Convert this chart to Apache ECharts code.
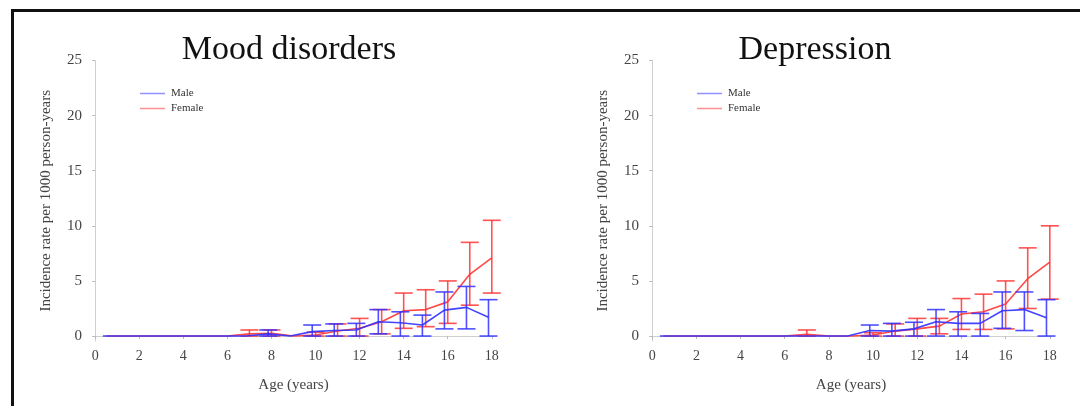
<!DOCTYPE html>
<html>
<head>
<meta charset="utf-8">
<script src="https://cdn.jsdelivr.net/npm/echarts@6/dist/echarts.min.js"></script>
<style>
html,body{margin:0;padding:0;background:#fff;}
#chart{width:1080px;height:406px;}
</style>
</head>
<body>
<div id="chart"></div>
<script>
// ---- data ----
const titles = ['Mood disorders', 'Depression'];
const ages = [0.5, 1, 2, 3, 4, 5, 6, 7, 8, 9, 10, 11, 12, 13, 14, 15, 16, 17, 18];
const xTicks = [0, 2, 4, 6, 8, 10, 12, 14, 16, 18];
const yTicks = [0, 5, 10, 15, 20, 25];
const seriesNames = ['Male', 'Female'];
const xAxisTitle = 'Age (years)';
const yAxisTitle = 'Incidence rate per 1000 person-years';

// Mood disorders
const moodMale    = [0,0,0,0,0,0,0,0,   0.2, 0,   0.4, 0.5, 0.55, 1.3, 1.2, 1.0, 2.35, 2.6, 1.7];
const moodMaleLo  = [0,0,0,0,0,0,0,0,   0,   0,   0,   0,   0,    0.2, 0,   0,   0.65, 0.65, 0];
const moodMaleHi  = [0,0,0,0,0,0,0,0,   0.55,0,   1.0, 1.1, 1.15, 2.4, 2.2, 1.9, 4.0, 4.5, 3.3];
const moodFem     = [0,0,0,0,0,0,0,0.2, 0.25,0,   0.1, 0.45,0.7,  1.3, 2.3, 2.4, 3.1, 5.6, 7.1];
const moodFemLo   = [0,0,0,0,0,0,0,0,   0,   0,   0,   0,   0,    0.2, 0.7, 0.85,1.15,2.8, 3.9];
const moodFemHi   = [0,0,0,0,0,0,0,0.55,0.55,0,   0.35,1.1, 1.6,  2.4, 3.9, 4.2, 5.0, 8.5, 10.5];

// Depression
const depMale     = [0,0,0,0,0,0,0,0,   0,   0,   0.5, 0.45,0.65, 1.3, 1.15,1.15,2.3, 2.4, 1.65];
const depMaleLo   = [0,0,0,0,0,0,0,0,   0,   0,   0,   0,   0,    0,   0,   0,   0.7, 0.5, 0];
const depMaleHi   = [0,0,0,0,0,0,0,0,   0,   0,   1.0, 1.15,1.25, 2.4, 2.2, 2.05,4.0, 4.0, 3.3];
const depFem      = [0,0,0,0,0,0,0,0.15,0,   0,   0.1, 0.45,0.65, 0.9, 2.0, 2.2, 2.9, 5.2, 6.7];
const depFemLo    = [0,0,0,0,0,0,0,0,   0,   0,   0,   0,   0,    0.2, 0.6, 0.6, 0.65,2.5, 3.35];
const depFemHi    = [0,0,0,0,0,0,0,0.55,0,   0,   0.3, 1.1, 1.6,  1.6, 3.4, 3.8, 5.0, 8.0, 10.0];

// ---- styles ----
const FONT = 'Liberation Serif';
const MALE_C = '#3030ff';
const FEM_C = '#ff3434';
const MALE_OFFSET = -0.15;
const FEM_OFFSET = 0;
const CAP_HALF = 9;

const panels = [
  {male: moodMale, maleLo: moodMaleLo, maleHi: moodMaleHi, fem: moodFem, femLo: moodFemLo, femHi: moodFemHi},
  {male: depMale, maleLo: depMaleLo, maleHi: depMaleHi, fem: depFem, femLo: depFemLo, femHi: depFemHi}
];
const grids = [
  {left: 93, top: 60.5, width: 401, height: 280.5},
  {left: 650, top: 60.5, width: 402, height: 280.5}
];
const titleX = [284, 810];
const legendX = [140, 697];

function errRender(color) {
  return function (params, api) {
    const x = api.value(0), lo = api.value(1), hi = api.value(2);
    if (!(hi > lo)) return null;
    const a = api.coord([x, lo]), b = api.coord([x, hi]);
    const st = {stroke: color, lineWidth: 1.6, opacity: 0.85};
    return {
      type: 'group',
      children: [
        {type: 'line', shape: {x1: a[0], y1: a[1], x2: b[0], y2: b[1]}, style: st},
        {type: 'line', shape: {x1: a[0] - CAP_HALF, y1: a[1], x2: a[0] + CAP_HALF, y2: a[1]}, style: st},
        {type: 'line', shape: {x1: b[0] - CAP_HALF, y1: b[1], x2: b[0] + CAP_HALF, y2: b[1]}, style: st}
      ]
    };
  };
}

const option = {
  backgroundColor: '#fff',
  animation: false,
  title: titles.map((t, i) => ({
    text: t, left: titleX[i], top: 28, textAlign: 'center',
    textStyle: {fontFamily: FONT, fontSize: 34, fontWeight: 'normal', color: '#111'}
  })),
  legend: legendX.map((lx, i) => ({
    data: seriesNames, left: lx, top: 87, orient: 'vertical', itemGap: 2,
    itemWidth: 25, itemHeight: 1.5, icon: 'rect',
    textStyle: {fontFamily: FONT, fontSize: 11, color: '#333', lineHeight: 13, padding: [0, 0, 0, 1]},
    selectedMode: false, padding: 0
  })),
  grid: grids,
  xAxis: grids.map((g, i) => ({
    type: 'value', gridIndex: i, min: -0.1, max: 18.1,
    name: xAxisTitle, nameLocation: 'middle', nameGap: 37,
    nameTextStyle: {fontFamily: FONT, fontSize: 15, color: '#444'},
    axisLine: {show: true, lineStyle: {color: '#cfcfcf', width: 1}},
    axisTick: {show: true, length: 3, lineStyle: {color: '#bbb'}, customValues: xTicks},
    axisLabel: {fontFamily: FONT, fontSize: 14, color: '#444', margin: 8, customValues: xTicks},
    splitLine: {show: false}
  })),
  yAxis: grids.map((g, i) => ({
    type: 'value', gridIndex: i, min: -0.45, max: 25,
    name: yAxisTitle, nameLocation: 'middle', nameGap: 39,
    nameTextStyle: {fontFamily: FONT, fontSize: 15, color: '#444'},
    axisLine: {show: true, lineStyle: {color: '#cfcfcf', width: 1}},
    axisTick: {show: true, length: 3, lineStyle: {color: '#bbb'}, customValues: yTicks},
    axisLabel: {fontFamily: FONT, fontSize: 15, color: '#444', margin: 11, customValues: yTicks},
    splitLine: {show: false}
  })),
  graphic: [{
    type: 'rect', left: 10, top: 8, z: 100,
    shape: {x: 0, y: 0, width: 1200, height: 600},
    style: {fill: 'none', stroke: '#111', lineWidth: 3}
  }],
  series: []
};

panels.forEach((p, i) => {
  const femData = ages.map((a, k) => [a + FEM_OFFSET, p.fem[k]]);
  const maleData = ages.map((a, k) => [a + MALE_OFFSET, p.male[k]]);
  const femErr = ages.map((a, k) => [a + FEM_OFFSET, p.femLo[k], p.femHi[k]]);
  const maleErr = ages.map((a, k) => [a + MALE_OFFSET, p.maleLo[k], p.maleHi[k]]);
  option.series.push(
    {name: 'Female', type: 'line', xAxisIndex: i, yAxisIndex: i, data: femData, symbol: 'none',
     itemStyle: {color: '#ff9090'}, lineStyle: {color: FEM_C, width: 1.6, opacity: 0.9}, z: 2},
    {name: 'Female err', type: 'custom', xAxisIndex: i, yAxisIndex: i, data: femErr,
     renderItem: errRender(FEM_C), encode: {x: 0, y: [1, 2]}, z: 2},
    {name: 'Male', type: 'line', xAxisIndex: i, yAxisIndex: i, data: maleData, symbol: 'none',
     itemStyle: {color: '#9090ff'}, lineStyle: {color: MALE_C, width: 1.6, opacity: 0.9}, z: 3},
    {name: 'Male err', type: 'custom', xAxisIndex: i, yAxisIndex: i, data: maleErr,
     renderItem: errRender(MALE_C), encode: {x: 0, y: [1, 2]}, z: 3}
  );
});

const chart = echarts.init(document.getElementById('chart'), null, {renderer: 'canvas'});
chart.setOption(option);
</script>
</body>
</html>
